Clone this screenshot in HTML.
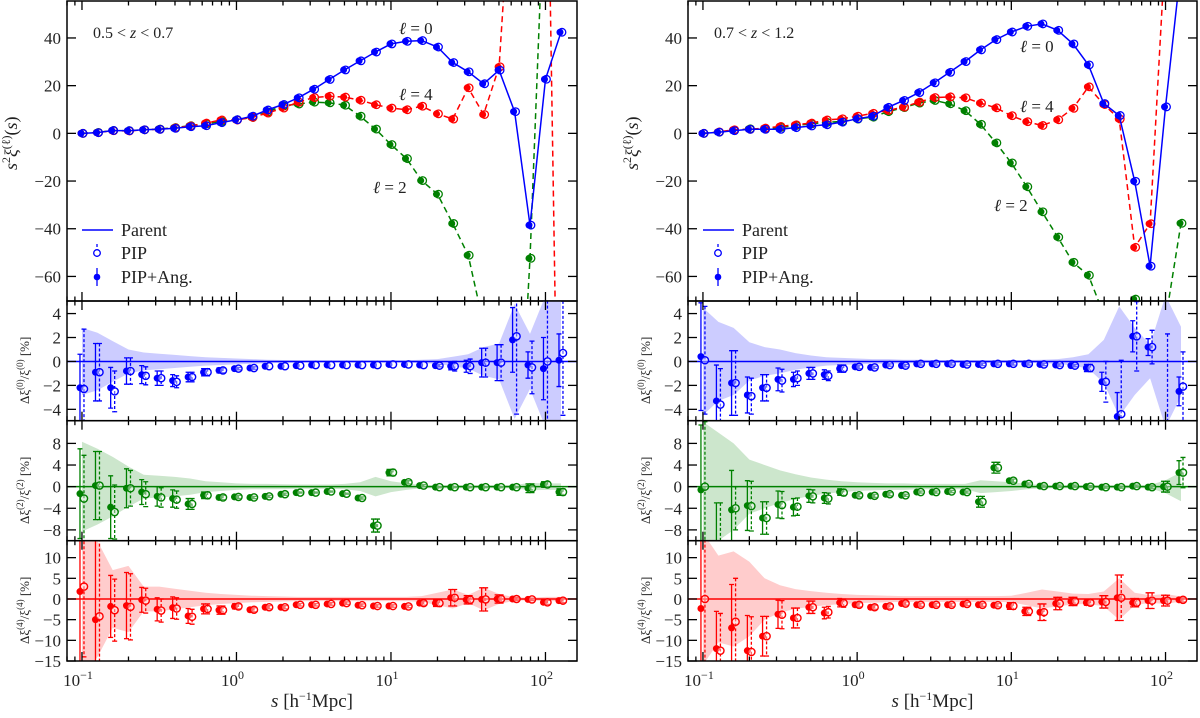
<!DOCTYPE html>
<html><head><meta charset="utf-8">
<style>
html,body{margin:0;padding:0;background:#fff;}
svg{display:block;font-family:"Liberation Serif",serif;}
</style></head>
<body>
<svg id="fig" width="1200" height="718" viewBox="0 0 1200 718" xmlns="http://www.w3.org/2000/svg"></svg>
<script>
const sBins=[0.1,0.126,0.158,0.2,0.251,0.316,0.398,0.501,0.631,0.794,1,1.26,1.58,2,2.51,3.16,3.98,5.01,6.31,7.94,10,12.6,15.8,20,25.1,31.6,39.8,50.1,63.1,79.4,100,126];
const xTickLabels=["10","10","10","10"];
const xTickExps=["−1","0","1","2"];
const topTicks=[40,20,0,-20,-40,-60];
const sub1Ticks=[4,2,0,-2,-4];
const sub2Ticks=[8,4,0,-4,-8];
const sub3Ticks=[10,5,0,-5,-10,-15];

// LEFT panel (0.5<z<0.7)
const L_xi0=[0,0.3,1.2,1.1,1.5,1.7,2.1,2.8,3.2,4.5,5.7,7.2,9.8,12.1,14.9,18.5,22.6,26.6,30.4,34.1,37.5,38.6,38.9,36.2,29.7,25.8,20.8,26.5,9.1,-38.5,22.7,42.4];
const L_xi2=[0,0.4,1.2,1.1,1.5,1.8,2.4,3.2,4.0,5.0,5.7,6.7,9.0,11.5,12.3,13.1,12.8,11.8,7.2,1.8,-4.7,-10.6,-19.8,-25.5,-37.8,-51.1,-80.2,-120,-169.7,-52.4,113.9,200];
const L_xi4=[0,0.3,1.1,1.0,1.5,1.7,2.3,3.1,4.3,5.6,5.6,6.7,8.5,10.6,13.1,15.0,15.6,15.2,13.9,12.0,10.6,9.9,11.4,8.2,6.0,19.1,7.9,27.9,129,250,181.6,-225];
const L_d0F=[-2.2,-0.9,-2.2,-0.8,-1.1,-1.4,-1.6,-1.3,-0.9,-0.75,-0.6,-0.55,-0.4,-0.4,-0.35,-0.3,-0.3,-0.3,-0.3,-0.3,-0.25,-0.25,-0.3,-0.35,-0.4,-0.4,-0.1,-0.1,1.8,-0.3,-0.6,0.1];
const L_d0O=[-2.3,-0.9,-2.5,-0.8,-1.2,-1.4,-1.7,-1.3,-0.9,-0.75,-0.6,-0.55,-0.4,-0.4,-0.35,-0.3,-0.3,-0.3,-0.3,-0.3,-0.25,-0.25,-0.3,-0.35,-0.4,-0.4,-0.1,-0.1,2.1,-0.5,0,0.7];
const L_e0F=[2.8,2.4,1.7,1.1,0.75,0.6,0.5,0.4,0.3,0.2,0.1,0.1,0,0,0,0,0,0,0,0,0,0,0,0.1,0.3,0.5,1.2,1.5,2.7,1.1,2.6,2.2];
const L_e0O=[5,2.4,1.7,1.1,0.75,0.6,0.5,0.4,0.3,0.2,0.1,0.1,0,0,0,0,0,0,0,0,0,0,0,0.1,0.4,0.6,1.2,1.5,6.5,2.2,5.5,5.2];
const L_b0=[2.8,2.4,1.7,1.0,0.75,0.65,0.55,0.45,0.35,0.3,0.25,0.2,0.15,0.12,0.1,0.1,0.1,0.1,0.1,0.1,0.1,0.1,0.15,0.2,0.4,0.6,1.2,1.5,4.8,2.3,5.5,5.5];
const L_d2F=[-1.3,0.2,-3.8,-0.3,-1.0,-1.8,-2.2,-3.2,-1.6,-2.0,-1.9,-2.0,-1.8,-1.4,-1.1,-1.1,-0.9,-1.3,-2.1,-7.2,2.6,0.8,0.2,-0.1,-0.1,-0.1,-0.1,-0.1,-0.1,-0.3,0.4,-1.0];
const L_d2O=[-2.2,0.2,-4.7,-0.3,-1.4,-2.0,-2.4,-3.2,-1.6,-2.0,-1.9,-2.0,-1.8,-1.4,-1.1,-1.1,-0.9,-1.3,-2.1,-7.2,2.6,0.8,0.2,-0.1,-0.1,-0.1,-0.1,-0.1,-0.1,-0.3,0.4,-1.0];
const L_e2F=[8.3,6.3,5.8,3.6,2.3,1.8,1.6,1.0,0.6,0.4,0.3,0.2,0.2,0.2,0.1,0.1,0.1,0.1,0.2,1.2,0.6,0.3,0.2,0.1,0.1,0.1,0.1,0.1,0.1,0.8,0.5,0.6];
const L_e2O=[8,6.3,5,3.3,2.3,1.8,1.6,1.0,0.6,0.4,0.3,0.2,0.2,0.2,0.1,0.1,0.1,0.1,0.2,1.2,0.6,0.3,0.2,0.1,0.1,0.1,0.1,0.1,0.1,0.8,0.5,0.6];
const L_b2=[8.3,7,5.5,3.7,2.2,2.0,1.8,1.5,1.0,0.8,0.6,0.5,0.5,0.45,0.4,0.4,0.4,0.5,0.8,1.8,1,0.6,0.3,0.3,0.3,0.3,0.3,0.3,0.3,0.7,0.6,0.6];
const L_d4F=[1.8,-5,-1.8,-1.6,-0.2,-2.5,-2.1,-4.1,-2.4,-2.7,-1.8,-2.6,-2.0,-2.0,-1.4,-1.4,-1.2,-1.0,-1.5,-1.7,-1.7,-1.8,-1.0,-1.0,0.3,-0.2,-0.1,0,0,-0.1,-0.8,-0.4];
const L_d4O=[3.0,-4.2,-2.7,-1.9,-0.4,-2.8,-2.3,-4.3,-2.4,-2.7,-1.8,-2.6,-2.0,-2.0,-1.4,-1.4,-1.2,-1.0,-1.5,-1.7,-1.7,-1.8,-1.0,-1.0,0.3,-0.2,-0.1,0,0,-0.1,-0.8,-0.4];
const L_e4F=[17,20,7.5,8,3,2.8,2.6,1.8,1.2,1,0.6,0.5,0.4,0.4,0.3,0.3,0.3,0.3,0.3,0.3,0.3,0.3,0.5,0.8,2,1,2.8,1,0.4,0.3,0.5,0.5];
const L_b4=[20,14,7,8,3,3,2.5,2,1.5,1.2,1.0,0.8,0.7,0.6,0.5,0.5,0.5,0.5,0.5,0.5,0.5,0.5,0.7,1.5,2.3,1.0,2.7,1.2,0.4,0.3,0.5,0.5];

// RIGHT panel (0.7<z<1.2)
const R_xi0=[0,0.5,1.1,1.7,1.7,1.7,2.4,3.1,3.6,4.7,6.1,7.2,10.9,13.8,17.1,21.2,25.6,30.1,35.0,39.3,42.5,44.9,45.9,43.2,37.5,28.7,12.5,7.5,-20.1,-55.7,11.1,70];
const R_xi2=[0,0.5,1.3,1.9,1.8,2.5,3.3,4.0,4.6,5.0,6.0,6.8,9.1,10.8,12.7,13.8,12.4,9.5,3.8,-4.0,-12.4,-22.4,-32.9,-43.5,-54.1,-59.5,-76,-80,-69.5,-90,-78.4,-37.7];
const R_xi4=[0,0.6,1.5,1.7,2.2,2.9,3.6,4.3,5.6,6.1,7.2,8.4,9.6,11.0,13.1,15.0,15.3,14.9,12.7,10.7,7.4,4.9,3.3,5.7,10.5,19.5,12.1,6.0,-47.8,-37.9,78.9,100];
const R_d0F=[0.4,-3.3,-1.8,-2.8,-2.2,-1.5,-1.5,-1.0,-1.1,-0.6,-0.45,-0.5,-0.3,-0.35,-0.2,-0.2,-0.2,-0.25,-0.25,-0.2,-0.2,-0.2,-0.25,-0.3,-0.35,-0.55,-1.7,-4.6,2.1,1.2,-8,-2.5];
const R_d0O=[0.1,-3.6,-1.8,-2.9,-2.2,-1.6,-1.4,-1.0,-1.2,-0.6,-0.45,-0.5,-0.3,-0.35,-0.2,-0.2,-0.2,-0.25,-0.25,-0.2,-0.2,-0.2,-0.25,-0.3,-0.35,-0.55,-1.7,-4.4,2.1,1.2,-8,-2.1];
const R_e0F=[4.5,3,2.7,1.5,1.1,0.95,0.6,0.5,0.4,0.3,0.15,0.1,0.1,0.1,0.1,0.1,0.1,0.1,0.1,0.1,0.1,0.1,0.1,0.1,0.1,0.3,0.8,2,1.3,0.7,0,1.2];
const R_e0O=[4.5,3,2.7,1.5,1.1,0.95,0.6,0.5,0.4,0.3,0.15,0.1,0.1,0.1,0.1,0.1,0.1,0.1,0.1,0.1,0.1,0.1,0.1,0.1,0.1,0.3,1.7,4.5,2.9,1.4,10.3,2.9];
const R_b0=[4.5,3.3,2.8,1.6,1.2,1.0,0.7,0.5,0.35,0.3,0.25,0.2,0.2,0.15,0.15,0.12,0.12,0.12,0.12,0.12,0.12,0.12,0.15,0.2,0.35,0.6,1.8,4.6,2.8,1.4,5.5,2.9];
const R_d2F=[-0.6,-12,-4.3,-3.5,-5.8,-3.3,-3.8,-1.7,-2.1,-1.0,-1.6,-1.7,-1.4,-1.6,-1.0,-1.0,-0.9,-1.0,-2.8,3.5,1.1,0.5,0.1,0.1,0.1,0,-0.1,-0.1,0.1,-0.1,0,2.6];
const R_d2O=[0,-13,-4,-3.6,-5.8,-3.4,-3.7,-1.8,-2.2,-1.1,-1.6,-1.7,-1.4,-1.6,-1.0,-1.0,-0.9,-1.0,-2.8,3.5,1.1,0.5,0.1,0.1,0.1,0,-0.1,-0.1,0.1,-0.1,0,2.6];
const R_e2F=[12,9,7.3,4.6,3,2.5,1.6,1.2,1,0.6,0.3,0.3,0.3,0.2,0.2,0.2,0.2,0.2,1,1,0.3,0.2,0.2,0.2,0.2,0.2,0.2,0.2,0.2,0.3,1,2.2];
const R_e2O=[12,10,4,4.6,3,2.5,1.6,1.2,1,0.6,0.3,0.3,0.3,0.2,0.2,0.2,0.2,0.2,1,1,0.3,0.2,0.2,0.2,0.2,0.2,0.2,0.2,0.2,0.3,1,2.8];
const R_b2=[12,10,8,5,4,3,2.3,1.7,1.3,1.0,0.8,0.7,0.6,0.6,0.5,0.5,0.5,0.5,1.2,1.0,0.8,0.5,0.3,0.3,0.3,0.3,0.3,0.3,0.3,0.3,1.2,2.7];
const R_d4F=[-2.3,-12,-7,-12.5,-9,-3.7,-4.6,-2.0,-3.4,-0.9,-1.4,-2.0,-1.8,-1.1,-1.4,-1.4,-1.4,-1.2,-1.4,-1.5,-1.7,-3.0,-3.2,-1.1,-0.6,-0.9,-0.7,0.3,-0.9,-0.4,-0.4,-0.2];
const R_d4O=[0,-12.5,-5.5,-12.8,-9,-3.8,-4.6,-2.0,-3.2,-1.0,-1.4,-2.0,-1.8,-1.1,-1.4,-1.4,-1.4,-1.2,-1.4,-1.5,-1.7,-3.0,-3.2,-1.1,-0.6,-0.9,-0.7,0.3,-0.9,-0.4,-0.4,-0.2];
const R_e4F=[18,9,10.5,8.5,4.8,3.4,2.4,1.5,1.4,1,0.5,0.5,0.5,0.4,0.4,0.4,0.4,0.4,0.4,0.4,0.8,1,2,1.5,1,0.6,1.5,5.5,1,1.9,1.3,0.5];
const R_b4=[16,10.5,11.5,9,5,3.3,2.4,1.9,1.5,1.2,1.0,0.9,0.8,0.7,0.7,0.7,0.7,0.7,0.7,0.7,0.8,1.5,2.3,1.8,1.3,1.2,1.8,5,1.5,0.9,1.2,0.6];

const NS="http://www.w3.org/2000/svg";
const svg=document.getElementById('fig');
const BLUE="#0000ff",GREEN="#008000",RED="#ff0000";
const LX0=Math.log10(0.08),LX1=Math.log10(160);
function mk(tag,attrs,parent){const e=document.createElementNS(NS,tag);for(const k in attrs)e.setAttribute(k,attrs[k]);(parent||svg).appendChild(e);return e;}
function xScale(px0,px1){return s=>px0+(Math.log10(s)-LX0)/(LX1-LX0)*(px1-px0);}
function yScale(py0,py1,vTop,vBot){return v=>py0+(vTop-v)/(vTop-vBot)*(py1-py0);}
let clipN=0;
function clip(x0,y0,x1,y1){const id='c'+(clipN++);const cp=mk('clipPath',{id:id});mk('rect',{x:x0,y:y0,width:x1-x0,height:y1-y0},cp);return 'url(#'+id+')';}

function frame(px0,px1,py0,py1,yS,ticks,showXLabels){
  const g=mk('g',{});
  
  
  mk('rect',{x:px0,y:py0,width:px1-px0,height:py1-py0,fill:'none',stroke:'#000','stroke-width':1.5},g);
  const xs=xScale(px0,px1);
  for(let d=-2;d<=2;d++){for(let m=1;m<=9;m++){const s=m*Math.pow(10,d);if(s<0.08||s>160)continue;
    const x=xs(s);const L=m===1?9:4.5;
    mk('line',{x1:x,x2:x,y1:py1,y2:py1-L,stroke:'#000','stroke-width':1.3},g);
    mk('line',{x1:x,x2:x,y1:py0,y2:py0+L,stroke:'#000','stroke-width':1.3},g);}}
  ticks.forEach(v=>{const y=yS(v);
    mk('line',{x1:px0,x2:px0+9,y1:y,y2:y,stroke:'#000','stroke-width':1.3},g);
    mk('line',{x1:px1,x2:px1-9,y1:y,y2:y,stroke:'#000','stroke-width':1.3},g);
    const t=mk('text',{x:px0-6,y:y+6,'text-anchor':'end','font-size':17,fill:'#222'},g);
    
    
    t.textContent=(v<0?'−'+Math.abs(v):String(v));});
  if(showXLabels){
    [0.1,1,10,100].forEach((s,i)=>{const x=xs(s);
      const t=mk('text',{x:x-4,y:py1+25,'text-anchor':'middle','font-size':17,fill:'#222'},g);
      
      
      t.textContent=xTickLabels[i];
      const sp=mk('tspan',{dy:-7,'font-size':12},t);sp.textContent=xTickExps[i];});
  }
}

function topPanel(px0,px1,xi0,xi2,xi4){
  const py0=1,py1=301;const xs=xScale(px0,px1);const ys=yScale(py0,py1,55.5,-70.3);
  const cp=clip(px0,py0,px1,py1);
  const g=mk('g',{'clip-path':cp});
  
  
  [[xi2,GREEN,'6,4','ell2'],[xi4,RED,'6,4','ell4'],[xi0,BLUE,null,'ell0']].forEach(([arr,c,dash,nm])=>{
    const d=arr.map((v,i)=>(i?'L':'M')+xs(sBins[i]).toFixed(1)+','+ys(v).toFixed(1)).join('');
    const p=mk('path',{d:d,fill:'none',stroke:c,'stroke-width':1.5},g);
    if(dash)p.setAttribute('stroke-dasharray',dash);
    
    
    arr.forEach((v,i)=>{const x=xs(sBins[i]),y=ys(v);
      const c1=mk('circle',{cx:x-1,cy:y,r:3.5,fill:c},g);
      
      
      mk('circle',{cx:x+1,cy:y,r:3.8,fill:'none',stroke:c,'stroke-width':1.3},g);});
  });
  frame(px0,px1,py0,py1,ys,topTicks,false);
}

function subPanel(px0,px1,py0,py1,vT,vB,ticks,c,band,dF,dO,eF,eO,fill,nm){
  const xs=xScale(px0,px1);const ys=yScale(py0,py1,vT,vB);
  const cp=clip(px0,py0,px1,py1);
  const g=mk('g',{'clip-path':cp});
  
  
  let d=band.map((w,i)=>(i?'L':'M')+xs(sBins[i]).toFixed(1)+','+ys(w).toFixed(1)).join('');
  for(let i=band.length-1;i>=0;i--)d+='L'+xs(sBins[i]).toFixed(1)+','+ys(-band[i]).toFixed(1);
  const b=mk('path',{d:d+'Z',fill:fill},g);
  
  
  const z=mk('line',{x1:px0,x2:px1,y1:ys(0),y2:ys(0),stroke:c,'stroke-width':1.5},g);
  
  
  sBins.forEach((s,i)=>{const x=xs(s);
    const xf=x-2,xo=x+2;
    if(eF[i]>0){mk('line',{x1:xf,x2:xf,y1:ys(dF[i]+eF[i]),y2:ys(dF[i]-eF[i]),stroke:c,'stroke-width':1.3},g);
      [dF[i]+eF[i],dF[i]-eF[i]].forEach(v=>mk('line',{x1:xf-2.5,x2:xf+2.5,y1:ys(v),y2:ys(v),stroke:c,'stroke-width':1.3},g));}
    if(eO[i]>0){mk('line',{x1:xo,x2:xo,y1:ys(dO[i]+eO[i]),y2:ys(dO[i]-eO[i]),stroke:c,'stroke-width':1.3,'stroke-dasharray':'3,2'},g);
      [dO[i]+eO[i],dO[i]-eO[i]].forEach(v=>mk('line',{x1:xo-2.5,x2:xo+2.5,y1:ys(v),y2:ys(v),stroke:c,'stroke-width':1.3},g));}
    const pf=mk('circle',{cx:xf,cy:ys(dF[i]),r:3.5,fill:c},g);
    
    
    const po=mk('circle',{cx:xo,cy:ys(dO[i]),r:3.6,fill:'#fff','fill-opacity':0.4,stroke:c,'stroke-width':1.4},g);
    
    
  });
  frame(px0,px1,py0,py1,ys,ticks,nm.indexOf('4')>=0);
}

function text(x,y,str,size,nm,anchor,rot){
  const t=mk('text',{x:x,y:y,'font-size':size,fill:'#222','text-anchor':anchor||'start'});
  if(rot)t.setAttribute('transform','rotate(-90 '+x+' '+y+')');
  
  
  t.innerHTML=str;return t;}

function column(px0,px1,P,zlabel){
  topPanel(px0,px1,P.xi0,P.xi2,P.xi4);
  subPanel(px0,px1,301,420.7,5.05,-4.95,sub1Ticks,BLUE,P.b0,P.d0F,P.d0O,P.e0F,P.e0O,'#ccccff','delta0');
  subPanel(px0,px1,420.7,540.7,12.2,-10,sub2Ticks,GREEN,P.b2,P.d2F,P.d2O,P.e2F,P.e2O,'#cce6cc','delta2');
  subPanel(px0,px1,540.7,661,14.1,-15,sub3Ticks,RED,P.b4,P.d4F,P.d4O,P.e4F,P.e4F,'#ffcccc','delta4');
  const ox=px0;
  text(ox+26,38,zlabel,16,'redshift-label');
  text(ox+P.l0x,P.l0y,'<tspan font-style="italic">ℓ</tspan> = 0',17,'ell0-label');
  text(ox+P.l4x,P.l4y,'<tspan font-style="italic">ℓ</tspan> = 4',17,'ell4-label');
  text(ox+P.l2x,P.l2y,'<tspan font-style="italic">ℓ</tspan> = 2',17,'ell2-label');
  // legend
  const lg=mk('g',{});
  
  
  mk('line',{x1:ox+15,x2:ox+46,y1:265,y2:265,stroke:BLUE,'stroke-width':1.5},lg);
  mk('line',{x1:ox+30,x2:ox+30,y1:244,y2:258,stroke:BLUE,'stroke-width':1.3,'stroke-dasharray':'3,2'},lg);
  mk('circle',{cx:ox+30,cy:253,r:3.3,fill:'#fff',stroke:BLUE,'stroke-width':1.3},lg);
  mk('line',{x1:ox+30,x2:ox+30,y1:268,y2:286,stroke:BLUE,'stroke-width':1.3},lg);
  mk('circle',{cx:ox+30,cy:277,r:3.3,fill:BLUE},lg);
  text(ox+54,236,'Parent',18,'legend-parent');
  text(ox+54,259,'PIP',18,'legend-pip');
  text(ox+54,283,'PIP+Ang.',18,'legend-pip-ang');
  lg.querySelectorAll('line')[0].setAttribute('y1',230);
  lg.querySelectorAll('line')[0].setAttribute('y2',230);
  // y labels
  const cx=px0-50;
  text(cx,170,'<tspan font-style="italic">s</tspan><tspan dy="-7" font-size="12">2</tspan><tspan dy="7" font-style="italic">ξ</tspan><tspan dy="-7" font-size="12">(ℓ)</tspan><tspan dy="7">(</tspan><tspan font-style="italic">s</tspan>)',18,'y-axis-title',null,true);
  const sub=[[361,'0'],[481,'2'],[601,'4']];
  sub.forEach(([yc,l])=>text(px0-38,yc+43,'Δξ<tspan dy="-6" font-size="9">('+l+')</tspan><tspan dy="6">/ξ</tspan><tspan dy="-6" font-size="9">('+l+')</tspan><tspan dy="6"> [%]</tspan>',13,'delta'+l+'-axis-title',null,true));
  const xt=text((px0+px1)/2-10,707,'<tspan font-style="italic">s</tspan>  [h<tspan dy="-7" font-size="12">−1</tspan><tspan dy="7">Mpc]</tspan>',19,'x-axis-title','middle');
}

column(67,577,{xi0:L_xi0,xi2:L_xi2,xi4:L_xi4,b0:L_b0,d0F:L_d0F,d0O:L_d0O,e0F:L_e0F,e0O:L_e0O,
  b2:L_b2,d2F:L_d2F,d2O:L_d2O,e2F:L_e2F,e2O:L_e2O,b4:L_b4,d4F:L_d4F,d4O:L_d4O,e4F:L_e4F,
  l0x:332,l0y:34,l4x:332,l4y:100,l2x:306,l2y:193},'0.5 &lt; <tspan font-style="italic">z</tspan> &lt; 0.7');
column(688,1197,{xi0:R_xi0,xi2:R_xi2,xi4:R_xi4,b0:R_b0,d0F:R_d0F,d0O:R_d0O,e0F:R_e0F,e0O:R_e0O,
  b2:R_b2,d2F:R_d2F,d2O:R_d2O,e2F:R_e2F,e2O:R_e2O,b4:R_b4,d4F:R_d4F,d4O:R_d4O,e4F:R_e4F,
  l0x:332,l0y:52,l4x:332,l4y:112,l2x:306,l2y:211},'0.7 &lt; <tspan font-style="italic">z</tspan> &lt; 1.2');
</script>
</body></html>
